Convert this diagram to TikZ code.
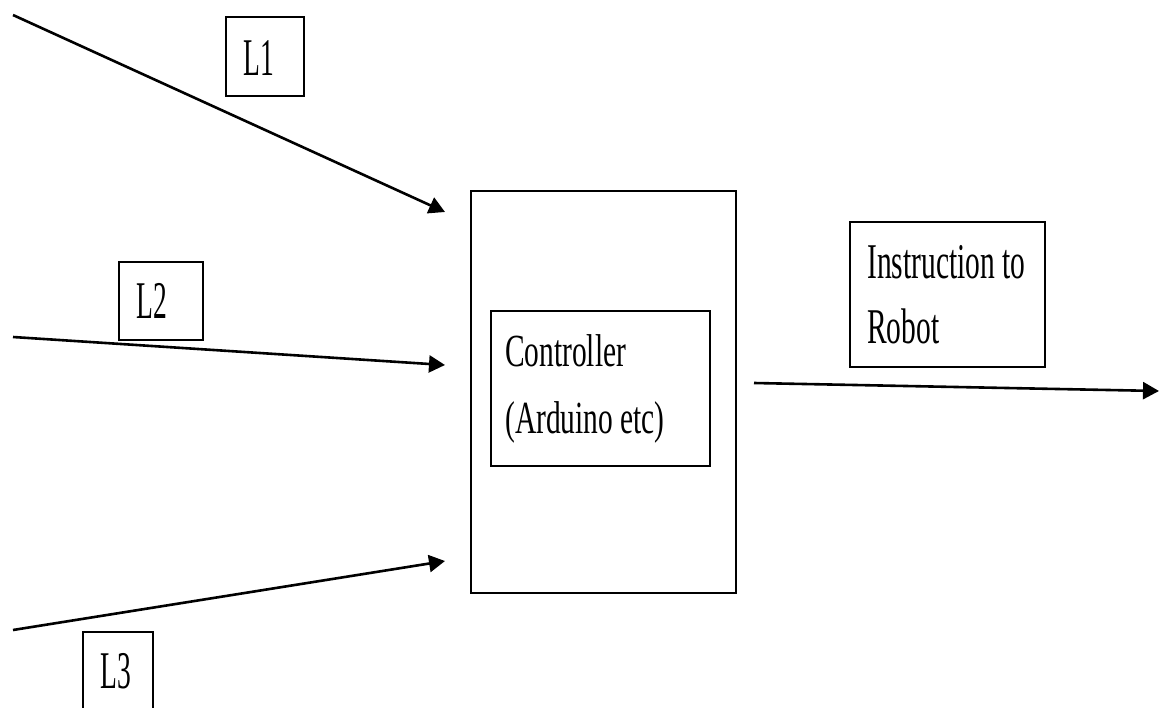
\documentclass[tikz,border=0pt]{standalone}
\usepackage{fontspec}
\setmainfont{Liberation Serif}
\usetikzlibrary{arrows.meta}
% narrow text: horizontal squeeze, size, line spacing, text
\newcommand{\squeezed}[4]{\scalebox{#1}[1]{\begin{minipage}[t]{400pt}\fontsize{#2}{#3}\selectfont #4\end{minipage}}}
\begin{document}
\begin{tikzpicture}[x=1pt,y=-1pt,
  box/.style={draw, line width=2pt, inner sep=0pt, anchor=north west},
  lab/.style={inner sep=0pt, anchor=base west},
  flow/.style={line width=2.6pt, -{Triangle[length=16pt,width=17pt]}},
]
\useasboundingbox (0,0) rectangle (1159,707);
\clip (0,0) rectangle (1159,707);

% label boxes for the three inputs
\node[box, minimum width=78pt, minimum height=79pt] (l1) at (225,16) {};
\node[lab] (l1t) at (243,75) {\squeezed{0.52}{53}{60}{L1}};
\node[box, minimum width=84pt, minimum height=78pt] (l2) at (118,261) {};
\node[lab] (l2t) at (136,318) {\squeezed{0.52}{53}{60}{L2}};
\node[box, minimum width=70pt, minimum height=90pt] (l3) at (82,631) {};
\node[lab] (l3t) at (100,688) {\squeezed{0.52}{53}{60}{L3}};

% controller
\node[box, minimum width=265pt, minimum height=402pt] (ctrl) at (470,190) {};
\node[box, minimum width=219pt, minimum height=155pt] (mcu) at (490,310) {};
\node[lab] (mcut) at (505,366) {\squeezed{0.64}{46}{67}{Controller\\(Arduino etc)}};

% output label
\node[box, minimum width=195pt, minimum height=145pt] (out) at (849,221) {};
\node[lab] (outt) at (867,278) {\squeezed{0.59}{50}{65}{Instruction to\\Robot}};

% connector ends
\coordinate (s1) at (13,15);
\coordinate (t1) at (445,212);
\coordinate (s2) at (13,337);
\coordinate (t2) at (445,365);
\coordinate (s3) at (13,630);
\coordinate (t3) at (445,561);
\coordinate (s4) at (754,383);
\coordinate (t4) at (1159,391);

\draw[flow] (s1) -- (t1);
\draw[flow] (s2) -- (t2);
\draw[flow] (s3) -- (t3);
\draw[flow] (s4) -- (t4);
\end{tikzpicture}
\end{document}
